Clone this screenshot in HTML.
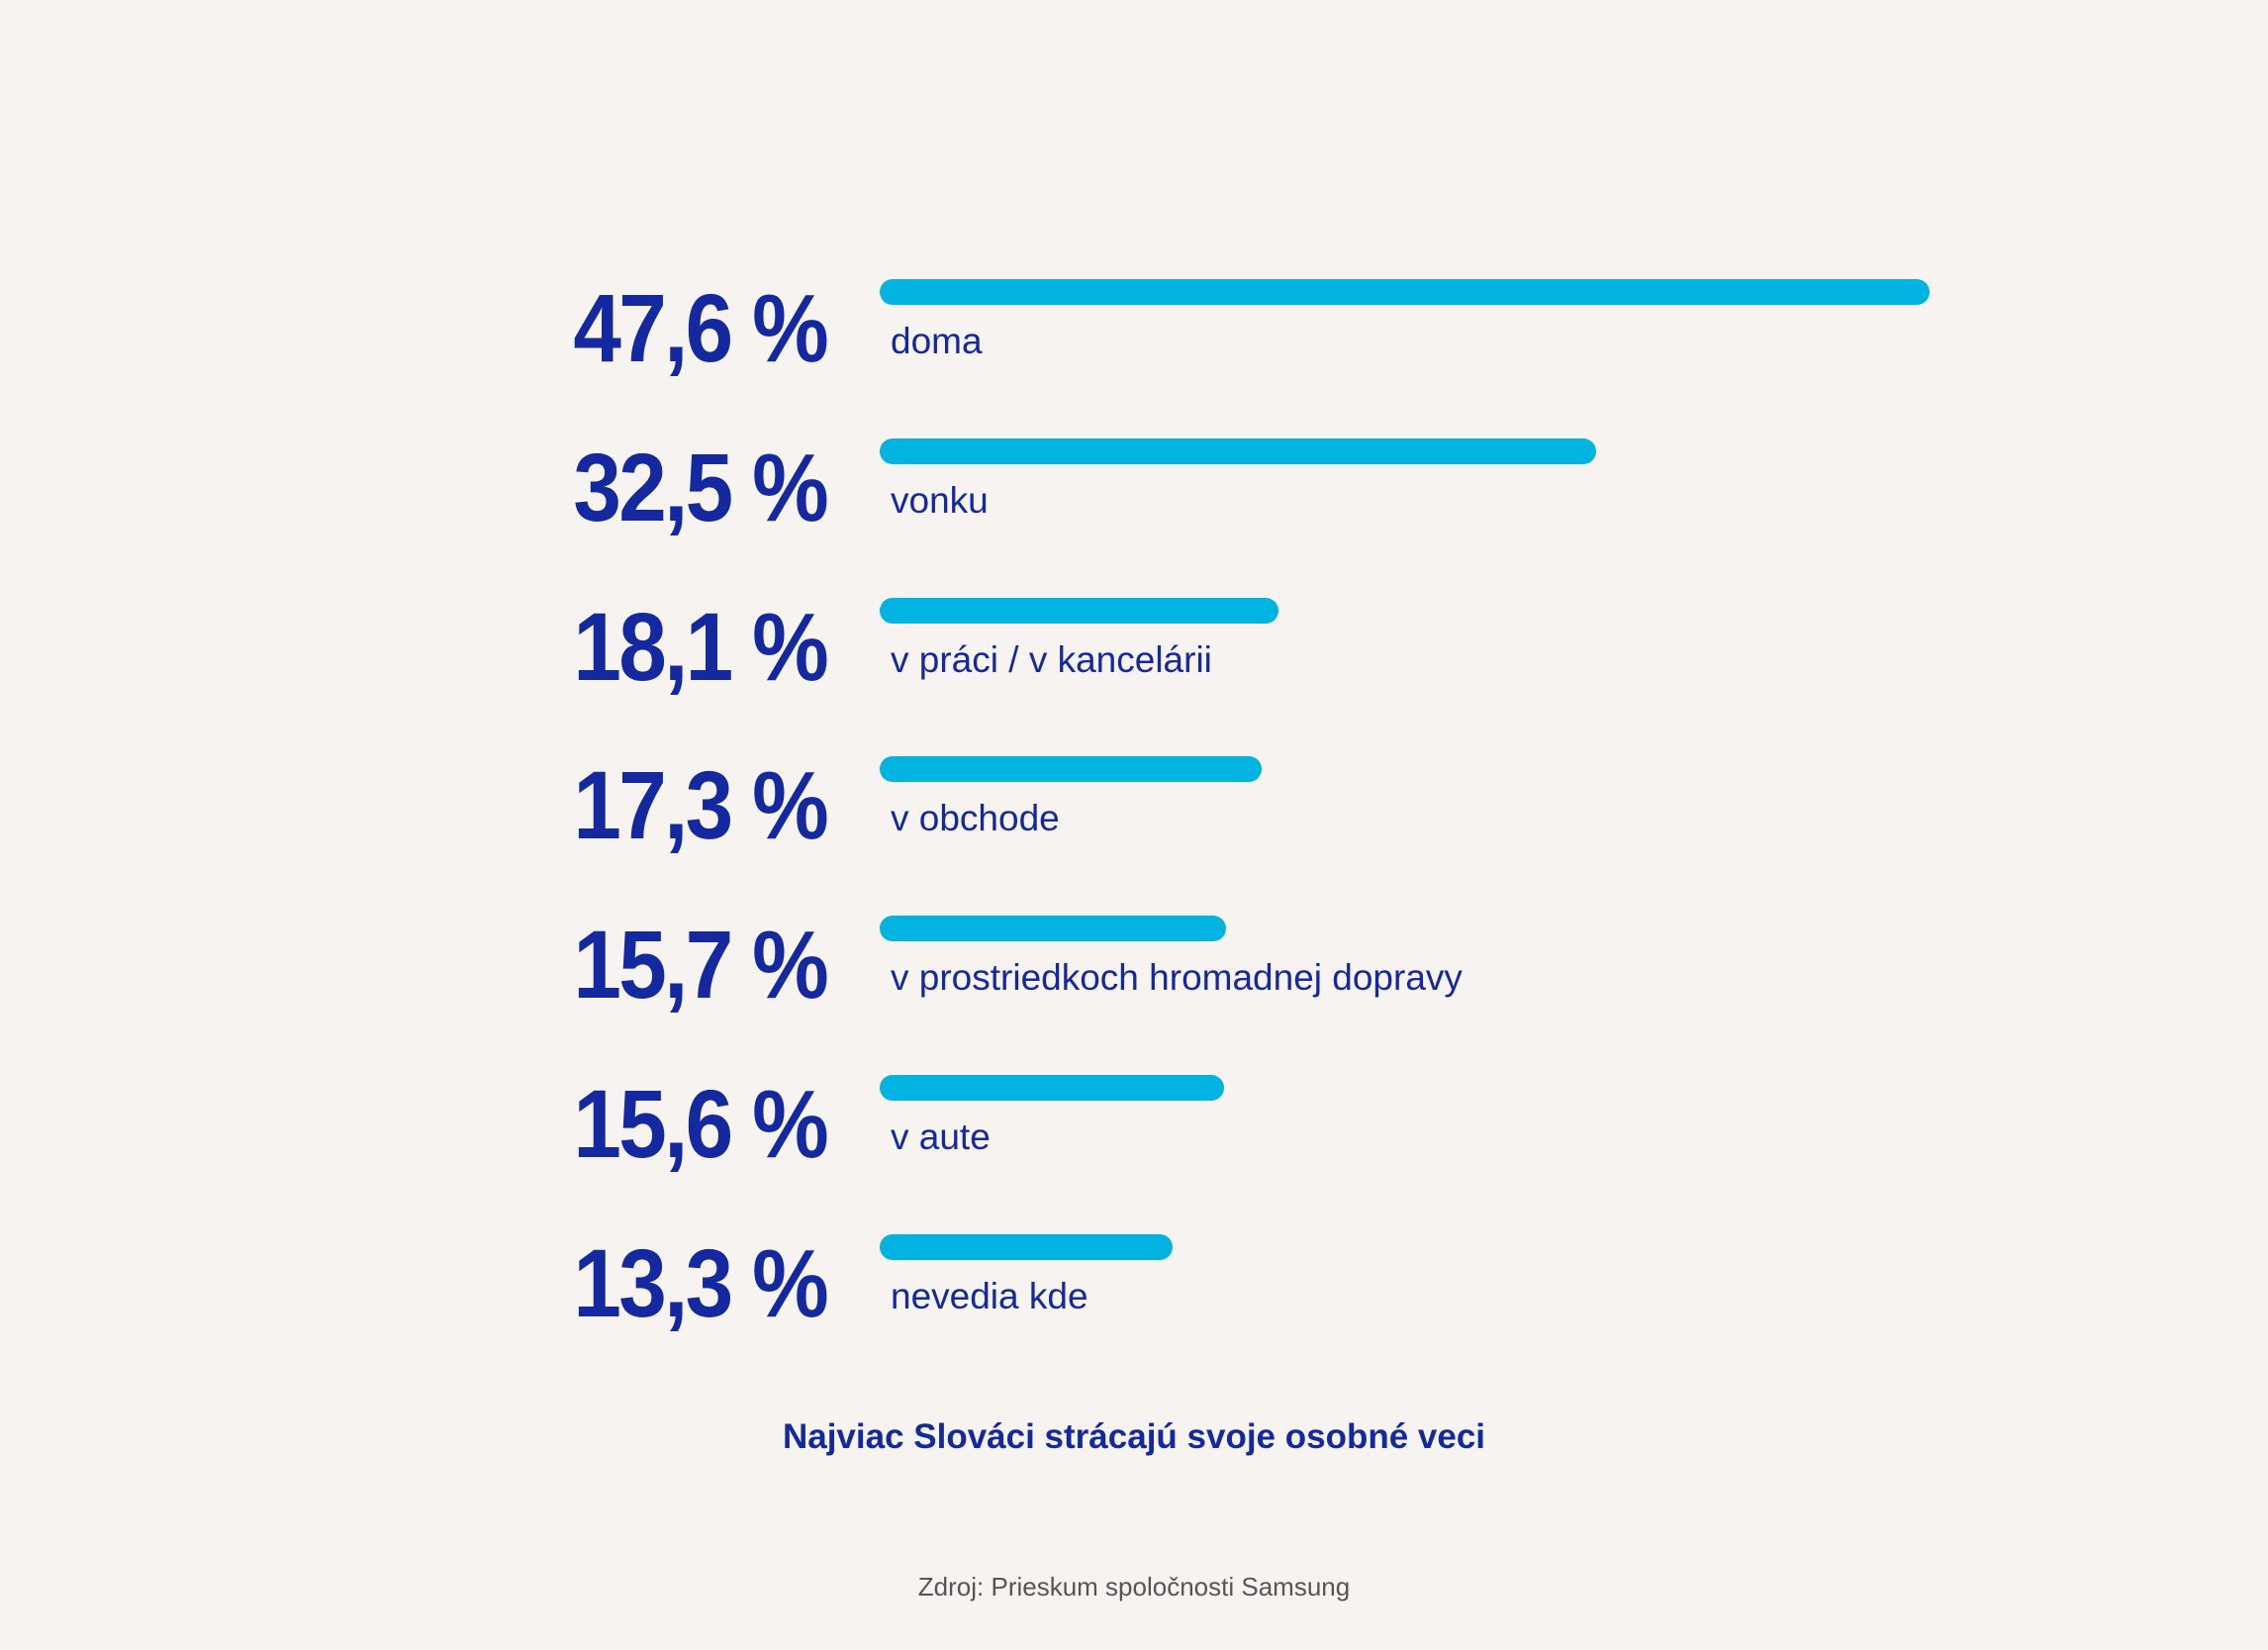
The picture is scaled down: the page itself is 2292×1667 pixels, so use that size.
<!DOCTYPE html>
<html><head><meta charset="utf-8"><style>
html,body{margin:0;padding:0;background:#f6f3f0;}
#c{position:relative;width:2292px;height:1667px;background:#f6f3f0;overflow:hidden;font-family:"Liberation Sans",sans-serif;}
.num{position:absolute;right:1457px;font-weight:bold;font-size:97px;line-height:1;color:#1428a0;transform:scaleX(0.9);transform-origin:right bottom;white-space:nowrap;letter-spacing:-3px;}
.bar{position:absolute;height:26px;border-radius:13px;background:#00b3e0;}
.lab{position:absolute;left:900px;font-size:37px;color:#1428a0;white-space:nowrap;line-height:1;}
#title{position:absolute;left:0;width:2292px;text-align:center;top:1432px;font-size:35px;font-weight:bold;color:#1428a0;}
#src{position:absolute;left:0;width:2292px;text-align:center;top:1588px;font-size:26px;color:#555;}
</style></head><body>
<div id="c">
<div id="title">Najviac Slováci strácajú svoje osobné veci</div>
<div id="src">Zdroj: Prieskum spoločnosti Samsung</div>
</div>
<script>
const categories=["doma","vonku","v práci / v kancelárii","v obchode","v prostriedkoch hromadnej dopravy","v aute","nevedia kde"];
const values=[47.6,32.5,18.1,17.3,15.7,15.6,13.3];
const valueLabels=["47,6 %","32,5 %","18,1 %","17,3 %","15,7 %","15,6 %","13,3 %"];
const x0=889, pxPer=22.29, y0=295, step=160.8;
function xScale(v){return v*pxPer;}
function yScale(i){return y0+i*step;}
const c=document.getElementById('c');
values.forEach((v,i)=>{
  const cy=yScale(i);
  const b=document.createElement('div');
  b.className='bar';
  
  
  b.style.left=x0+'px';b.style.top=(cy-13)+'px';b.style.width=xScale(v)+'px';
  c.appendChild(b);
  const n=document.createElement('div');
  n.className='num';
  
  
  n.textContent=valueLabels[i];
  n.style.top=(cy-12)+'px';
  c.appendChild(n);
  const l=document.createElement('div');
  l.className='lab';
  
  
  l.textContent=categories[i];
  l.style.top=(cy+31)+'px';
  c.appendChild(l);
});
</script>
</body></html>
